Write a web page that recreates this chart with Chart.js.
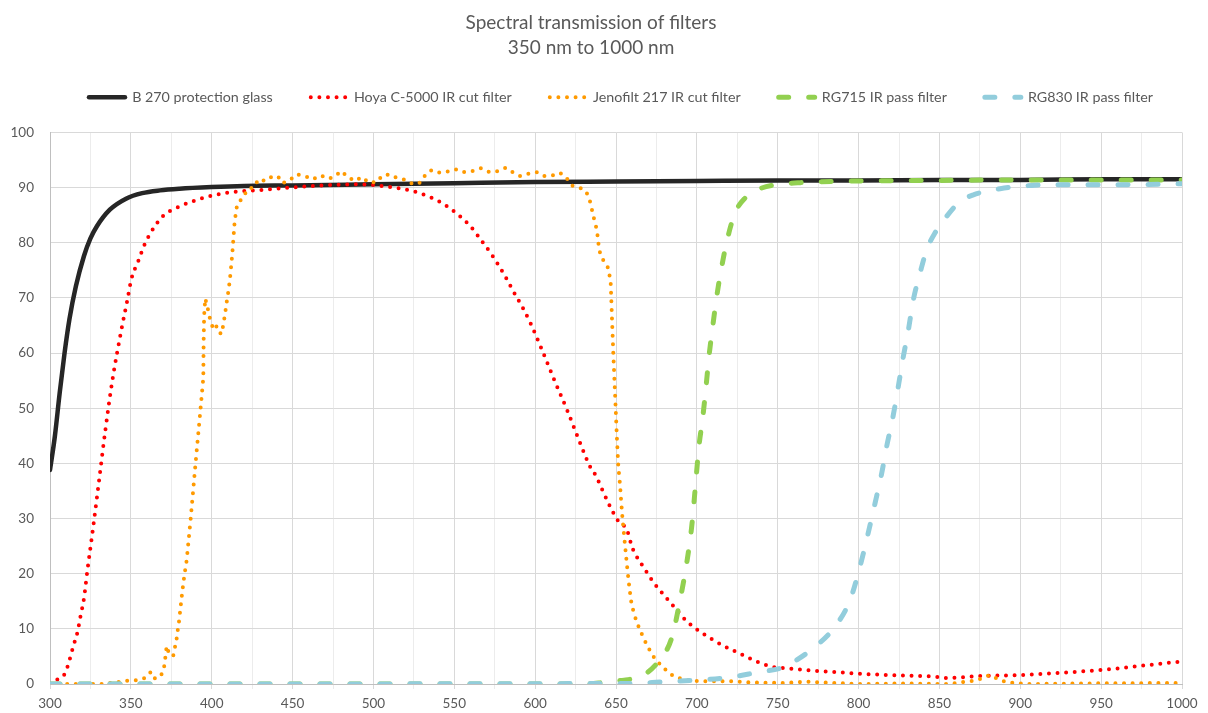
<!DOCTYPE html>
<html>
<head>
<meta charset="utf-8">
<title>Spectral transmission of filters</title>
<script src="https://cdn.jsdelivr.net/npm/chart.js@4/dist/chart.umd.min.js"></script>
<style>
  html, body { margin: 0; padding: 0; background: #ffffff; }
  #chart { display: block; }
</style>
</head>
<body>
<canvas id="chart" width="1208" height="713"></canvas>
<script>
// wavelength (nm) / transmission (%) pairs per filter
const b270Nm = [300, 303, 306, 309, 312, 316, 321, 325, 329, 337, 347, 357, 368, 380, 400, 420, 450, 500, 550, 600, 650, 700, 750, 800, 850, 900, 950, 1000];
const b270T  = [38.8, 44.9, 52.8, 60.0, 66.1, 72.1, 77.6, 80.8, 83.0, 86.0, 88.0, 89.0, 89.5, 89.8, 90.1, 90.3, 90.4, 90.6, 90.8, 91.0, 91.1, 91.2, 91.3, 91.3, 91.4, 91.4, 91.5, 91.5];

const hoyaNm = [300, 305, 309, 311, 312.5, 314, 315.5, 317, 318, 319, 321, 323, 326.5, 330, 334, 338.5, 344, 347.5, 350.5, 354.5, 358.5, 363.5, 370, 379.5, 394.5, 410.5, 432, 448, 469, 491, 502, 513, 524, 534, 543, 551.5, 560, 566.5, 573, 581.5, 586.5, 592, 597, 603.5, 612, 620, 627, 634, 637.5, 642, 646.5, 651.5, 656, 658, 659.5, 661.5, 664, 667, 673, 680, 687, 694, 703, 716, 726, 736, 747, 757.5, 768, 784, 805, 821.5, 848, 854.5, 875, 898, 918, 939, 960, 978, 1000];
const hoyaT  = [0, 0.9, 1.8, 3.3, 4.8, 6.4, 7.9, 9.4, 10.9, 12.5, 15.5, 20.3, 28.0, 36.1, 45.5, 54.9, 64.0, 69.1, 73.6, 76.6, 79.7, 82.4, 84.9, 86.5, 88.1, 89.1, 89.6, 90.0, 90.4, 90.6, 90.4, 90.0, 89.4, 88.4, 87.1, 85.3, 83.0, 80.5, 77.9, 73.9, 71.2, 68.4, 65.5, 61.1, 55.0, 49.5, 44.3, 39.4, 37.8, 34.9, 32.1, 29.5, 28.3, 26.9, 25.2, 23.8, 22.5, 21.2, 18.5, 16.0, 13.6, 11.3, 9.3, 7.0, 5.6, 4.2, 3.1, 2.8, 2.5, 2.2, 1.8, 1.6, 1.3, 1.1, 1.45, 1.6, 1.9, 2.3, 2.8, 3.4, 4.1];

const jenoNm = [300, 311, 333, 348, 353.5, 358, 362, 363.5, 367.5, 370, 371, 371.5, 372.2, 373.8, 376.2, 377.3, 378.3, 379, 379.8, 380.4, 381, 381.6, 382.2, 382.9, 383.7, 384.5, 387, 390, 392.5, 394.8, 395, 395.3, 396, 397.3, 398.5, 399.6, 400.8, 402.5, 403.7, 406.4, 407, 408, 409.5, 410.3, 411, 411.6, 412.1, 412.6, 413, 413.4, 413.8, 414.2, 415, 415.8, 419.5, 422, 426.3, 428.8, 433, 436.7, 440.8, 443.9, 448.4, 452.5, 457.7, 462.4, 467.4, 472.1, 476.2, 480, 484.1, 488.2, 493.2, 496.9, 502, 505.5, 509.9, 514.8, 520.2, 524.7, 528.8, 531.9, 536, 541.2, 545.9, 551.5, 556.2, 561.2, 566.5, 571.7, 576.8, 581.8, 586.1, 590.7, 595.8, 601, 605.5, 610.6, 615.4, 619.5, 622.6, 627.3, 631.3, 633.5, 634.9, 636, 637.4, 638.4, 639, 639.7, 641.5, 644.6, 645.8, 646.7, 647.1, 647.5, 647.9, 648.3, 649.5, 650.5, 651.4, 652.5, 653.2, 654, 655, 656.1, 657.1, 658.3, 659.7, 662.8, 664.9, 667, 669.5, 672.1, 675.2, 679.3, 683, 687.6, 693.7, 702, 709, 720.5, 731, 753, 768, 784, 801, 828, 854.5, 860.7, 865.8, 871, 876, 880.8, 885.4, 890.5, 895.7, 906, 940, 1000];
const jenoT  = [0, 0, 0, 0.6, 0.7, 1.0, 2.1, 1.0, 1.1, 2.2, 3.8, 5.4, 6.9, 5.3, 5.1, 6.7, 8.2, 9.8, 11.4, 13.0, 14.6, 16.2, 17.7, 19.3, 20.9, 22.4, 30.0, 40.0, 48.0, 55.5, 62.0, 66.7, 69.9, 68.4, 66.8, 65.3, 64.7, 65.3, 63.8, 63.5, 65.0, 66.6, 69.7, 71.2, 72.8, 74.4, 76.0, 77.6, 79.1, 80.7, 82.3, 83.9, 85.5, 87.1, 88.2, 89.7, 90.1, 91.5, 91.2, 91.9, 92.1, 90.8, 91.4, 92.4, 92.1, 91.5, 92.2, 91.6, 92.0, 93.0, 92.0, 91.2, 91.9, 90.9, 91.0, 92.2, 92.4, 91.7, 91.4, 90.6, 90.9, 92.2, 93.2, 92.7, 92.9, 93.3, 92.8, 93.0, 93.5, 92.8, 93.0, 93.6, 92.8, 92.1, 92.5, 92.8, 92.1, 92.2, 92.7, 91.7, 90.4, 90.0, 89.4, 88.0, 86.3, 84.8, 83.3, 81.8, 80.2, 78.6, 77.1, 75.9, 74.4, 72.8, 69.7, 66.4, 63.3, 60.1, 52.0, 45.0, 39.6, 36.1, 33.1, 30.1, 26.9, 23.6, 20.6, 17.4, 14.3, 11.2, 9.8, 8.3, 6.9, 5.4, 4.2, 3.0, 1.9, 1.2, 0.7, 0.5, 0.5, 0.5, 0.3, 0.2, 0.4, 0.2, 0, 0.1, 0, 0.2, 0.4, 0.6, 1.0, 1.6, 1.0, 0.4, 0.2, 0, 0.1, 0.2];

const rg715Nm = [300, 630, 640, 648, 655, 661, 668, 676, 684.4, 689.6, 693.7, 696.8, 698.9, 701.3, 703.6, 705.7, 707.5, 709.8, 712.3, 715.4, 718.8, 723.6, 729.8, 739, 751.4, 764, 800, 850, 900, 1000];
const rg715T  = [0, 0, 0.2, 0.5, 0.7, 1.0, 1.8, 4.0, 8.3, 15.2, 21.9, 28.5, 35.2, 43.1, 48.2, 54.0, 59.4, 64.8, 70.3, 75.7, 80.6, 85.4, 88.1, 89.8, 90.6, 90.9, 91.2, 91.3, 91.4, 91.4];

const rg830Nm = [300, 660, 679, 700, 720.5, 739, 751, 756, 772, 785.4, 794.7, 800.9, 805.4, 810.2, 814.3, 817.4, 821.5, 824.6, 827.7, 830.8, 833.9, 838, 842.2, 847.3, 854.5, 862.8, 871, 887.5, 907, 925, 966, 1000];
const rg830T  = [0, 0.1, 0.4, 0.7, 1.2, 2.2, 2.8, 3.4, 6.5, 10.4, 15.2, 21.3, 26.7, 32.8, 38.2, 43.1, 48.8, 54.0, 59.4, 64.2, 69.7, 74.5, 78.8, 81.8, 84.8, 87.5, 88.7, 89.8, 90.4, 90.5, 90.5, 90.7];

const titleLines = ['Spectral transmission of filters', '350 nm to 1000 nm'];
const xMin = 300, xMax = 1000, xStep = 25, xLabelStep = 50;
const yMin = 0, yMax = 100, yStep = 10;

const pairs = (xs, ys) => xs.map((x, i) => ({ x: x, y: ys[i] }));

const textGrey = '#595959';
Chart.defaults.font.family = "Lato, 'Liberation Sans', sans-serif";
Chart.defaults.color = textGrey;

const dotted = { borderWidth: 4, borderDash: [0, 8.6], borderCapStyle: 'round' };
const dashed = { borderWidth: 5, borderDash: [10, 20], borderCapStyle: 'round' };

const datasets = [
  { label: 'B 270 protection glass', data: pairs(b270Nm, b270T), borderColor: '#262626', borderWidth: 4.5, borderCapStyle: 'round', cubicInterpolationMode: 'monotone', order: 5 },
  { label: 'Hoya C-5000 IR cut filter', data: pairs(hoyaNm, hoyaT), borderColor: '#FF0000', cubicInterpolationMode: 'monotone', order: 4, ...dotted },
  { label: 'Jenofilt 217 IR cut filter', data: pairs(jenoNm, jenoT), borderColor: '#FF9A00', tension: 0, order: 3, ...dotted },
  { label: 'RG715 IR pass filter', data: pairs(rg715Nm, rg715T), borderColor: '#92D050', cubicInterpolationMode: 'monotone', order: 2, ...dashed },
  { label: 'RG830 IR pass filter', data: pairs(rg830Nm, rg830T), borderColor: '#92CDDC', cubicInterpolationMode: 'monotone', order: 1, ...dashed },
];
datasets.forEach(d => { d.pointRadius = 0; d.pointHoverRadius = 0; d.fill = false; });

const gridColor = ctx => (ctx.tick && ctx.tick.value % xLabelStep === 0) ? '#D9D9D9' : '#ECECEC';

// legend samples keep each dataset's own dash pattern, in dataset order
const legendItems = chart => chart.data.datasets.map((ds, i) => ({
  text: ds.label,
  datasetIndex: i,
  hidden: false,
  fillStyle: ds.borderColor,
  strokeStyle: ds.borderColor,
  fontColor: textGrey,
  lineWidth: ds.borderWidth,
  lineDash: ds.borderDash || [],
  lineCap: ds.borderCapStyle || 'butt',
  pointStyle: 'line',
}));

// room under the legend row, and the row nudged right a little
const legendPlace = {
  id: 'legendPlace',
  beforeInit(chart) {
    const fit = chart.legend.fit;
    chart.legend.fit = function () {
      fit.call(this);
      this.height += 18;
    };
  },
  afterLayout(chart) {
    chart.legend.left += 30;
    chart.legend.right += 30;
  },
};

new Chart(document.getElementById('chart'), {
  type: 'line',
  data: { datasets: datasets },
  plugins: [legendPlace],
  options: {
    responsive: false,
    animation: false,
    events: [],
    layout: { padding: { top: 9, right: 26, bottom: 0, left: 0 } },
    plugins: {
      title: {
        display: true,
        text: titleLines,
        font: { size: 19, weight: 'normal', lineHeight: 1.32 },
        color: textGrey,
        padding: { top: 1, bottom: -8 },
      },
      legend: {
        position: 'top',
        labels: {
          usePointStyle: true,
          pointStyleWidth: 36,
          boxHeight: 14,
          padding: 38,
          color: textGrey,
          font: { size: 14.3 },
          generateLabels: legendItems,
        },
      },
      tooltip: { enabled: false },
    },
    scales: {
      x: {
        type: 'linear',
        min: xMin,
        max: xMax,
        afterFit: scale => { scale.height = 29; },
        afterBuildTicks: scale => {
          const ticks = [];
          for (let v = xMin; v <= xMax; v += xStep) ticks.push({ value: v });
          scale.ticks = ticks;
        },
        ticks: {
          autoSkip: false,
          maxRotation: 0,
          padding: 7,
          font: { size: 13.5 },
          callback: v => (v % xLabelStep === 0 ? String(v) : ''),
        },
        grid: { color: gridColor, tickColor: gridColor, tickLength: 5, lineWidth: 1 },
        border: { color: '#BFBFBF', width: 1 },
      },
      y: {
        min: yMin,
        max: yMax,
        afterFit: scale => { scale.width = 50; },
        ticks: { stepSize: yStep, padding: 16, font: { size: 13.5 } },
        grid: { color: '#D9D9D9', drawTicks: false, lineWidth: 1 },
        border: { color: '#BFBFBF', width: 1 },
      },
    },
  },
});
</script>
</body>
</html>
